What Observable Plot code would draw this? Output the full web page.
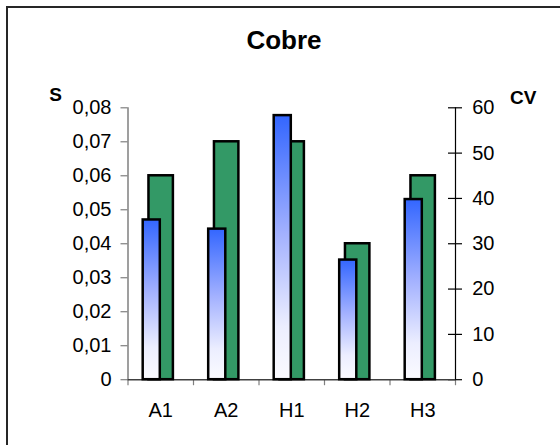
<!DOCTYPE html>
<html>
<head>
<meta charset="utf-8">
<script src="https://cdn.jsdelivr.net/npm/d3@7"></script>
<script src="https://cdn.jsdelivr.net/npm/@observablehq/plot@0.6"></script>
<style>
  html, body { margin: 0; padding: 0; background: #fff; }
  #figure { position: relative; width: 560px; height: 445px; overflow: hidden; background: #fff;
            font-family: "Liberation Sans", Arial, sans-serif; color: #000; }
  #frame { position: absolute; left: 6px; top: 6px; width: 900px; height: 900px;
           border-left: 2px solid #262626; border-top: 2px solid #262626; }
  #chart { position: absolute; left: 0; top: 0; }
  #title { position: absolute; left: 0; width: 568px; top: 26.5px; text-align: center;
           font-weight: bold; font-size: 26px; line-height: 26px; }
  .axis-title { position: absolute; font-weight: bold; font-size: 19px; line-height: 19px;
                transform: translateX(-50%); white-space: nowrap; }
</style>
</head>
<body>
<div id="figure">
  <div id="frame"></div>
  <div id="chart"></div>
  <div id="title">Cobre</div>
  <div class="axis-title" style="left:55.5px; top:84.6px;">S</div>
  <div class="axis-title" style="left:523.3px; top:88.4px;">CV</div>
</div>
<script>
// Copper samples: standard deviation (S, left axis) and coefficient of variation (CV, right axis)
const categories = ["A1", "A2", "H1", "H2", "H3"];
const sValues = [0.047, 0.0443, 0.0777, 0.0352, 0.053];
const cvValues = [45, 52.5, 52.5, 30, 45];

const sTicks = [0, 0.01, 0.02, 0.03, 0.04, 0.05, 0.06, 0.07, 0.08];
const sTickLabels = ["0", "0,01", "0,02", "0,03", "0,04", "0,05", "0,06", "0,07", "0,08"];
const cvTicks = [0, 10, 20, 30, 40, 50, 60];
const cvTickLabels = ["0", "10", "20", "30", "40", "50", "60"];

// Both axes share one y scale: CV values are mapped onto the S range.
const S_MAX = 0.08, CV_MAX = 60;
const cvToS = v => v * S_MAX / CV_MAX;

// Position of each bar inside its category slot (slot width = 1)
const S_SLOT = [0.232, 0.493];
const CV_SLOT = [0.32, 0.693];

const rows = categories.map((c, i) => ({category: c, i, s: sValues[i], cv: cvValues[i]}));
const slotEdges = d3.range(categories.length + 1);
const slotCenters = categories.map((c, i) => i + 0.5);

const chart = Plot.plot({
  width: 560,
  height: 445,
  marginLeft: 127.5,
  marginRight: 105,
  marginTop: 107.3,
  marginBottom: 65.8,
  style: {
    fontFamily: "'Liberation Sans', Arial, sans-serif",
    fontSize: "20px",
    background: "transparent",
    color: "#000",
    overflow: "visible"
  },
  x: {domain: [0, categories.length]},
  y: {domain: [0, S_MAX]},
  marks: [
    // axis lines and tick marks
    Plot.ruleX([0], {stroke: "#7f7f7f", strokeWidth: 1.5}),
    Plot.ruleY(sTicks, {x1: 0, x2: 0, insetLeft: -7, stroke: "#7f7f7f", strokeWidth: 1.2}),
    Plot.ruleX(slotEdges, {y1: 0, y2: 0, insetBottom: -6, stroke: "#7f7f7f", strokeWidth: 1.2}),
    Plot.ruleX([categories.length], {stroke: "#000", strokeWidth: 1.2}),
    Plot.ruleY(cvTicks.map(cvToS), {x1: categories.length, x2: categories.length,
      insetLeft: -7, insetRight: -7, stroke: "#000", strokeWidth: 1.2}),
    Plot.ruleY([0], {stroke: "#404040", strokeWidth: 1.5}),

    // CV bars (behind)
    Plot.rect(rows, {
      x1: d => d.i + CV_SLOT[0], x2: d => d.i + CV_SLOT[1],
      y1: 0, y2: d => cvToS(d.cv),
      fill: "#339966", stroke: "#000", strokeWidth: 2.5
    }),
    // S bars (front, gradient fill)
    Plot.rect(rows, {
      x1: d => d.i + S_SLOT[0], x2: d => d.i + S_SLOT[1],
      y1: 0, y2: d => d.s,
      fill: "url(#sGradient)", stroke: "#000", strokeWidth: 2.5
    }),

    // tick labels
    Plot.axisY(sTicks, {anchor: "left", tickSize: 0, tickPadding: 16.5, fontSize: 20, label: null,
      tickFormat: d => sTickLabels[sTicks.indexOf(d)]}),
    Plot.axisY(cvTicks.map(cvToS), {anchor: "right", tickSize: 0, tickPadding: 16.7, fontSize: 20, label: null,
      tickFormat: d => cvTickLabels[cvTicks.indexOf(Math.round(d * CV_MAX / S_MAX))]}),
    Plot.axisX(slotCenters, {anchor: "bottom", tickSize: 0, tickPadding: 23.3, fontSize: 20, label: null,
      tickFormat: d => categories[Math.floor(d)]})
  ]
});

// vertical blue-to-white gradient used by the S bars
const ns = "http://www.w3.org/2000/svg";
const defs = document.createElementNS(ns, "defs");
const grad = document.createElementNS(ns, "linearGradient");
grad.setAttribute("id", "sGradient");
grad.setAttribute("x1", "0"); grad.setAttribute("y1", "0");
grad.setAttribute("x2", "0"); grad.setAttribute("y2", "1");
[[0, "#3366ff"], [0.45, "#a3b1ff"], [0.8, "#eceeff"], [1, "#fbfbff"]].forEach(([o, c]) => {
  const stop = document.createElementNS(ns, "stop");
  stop.setAttribute("offset", o);
  stop.setAttribute("stop-color", c);
  grad.appendChild(stop);
});
defs.appendChild(grad);
chart.insertBefore(defs, chart.firstChild);

document.getElementById("chart").appendChild(chart);
</script>
</body>
</html>
